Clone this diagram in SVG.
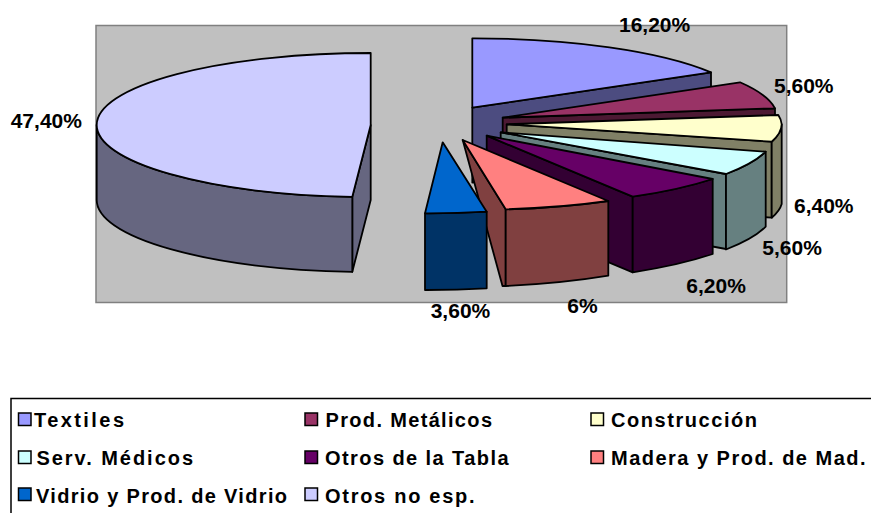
<svg xmlns="http://www.w3.org/2000/svg" width="871" height="513" viewBox="0 0 871 513">
<style>
.s{stroke:#000;stroke-width:1.8;stroke-linejoin:round}
.lbl{font-family:"Liberation Sans",Arial,sans-serif;font-weight:bold;font-size:21px;fill:#000}
.leg{font-family:"Liberation Sans",Arial,sans-serif;font-weight:bold;font-size:20px;fill:#000}
.sw{stroke:#000;stroke-width:1.5}
</style>
<rect x="0" y="0" width="871" height="513" fill="#fff"/>
<rect id="plot-area" x="96" y="25.5" width="690.7" height="277" fill="#C0C0C0" stroke="#808080" stroke-width="1.5"/>

<g id="slice-otros-no-esp">
<path class="s" fill="#666680" d="M352.3,196.8 L370.7,125 L370.7,200 L352.3,271.8 Z"/>
<path class="s" fill="#666680" d="M96.7,125 A274,72 0 0 0 352.3,196.8 L352.3,271.8 A274,72 0 0 1 96.7,200 Z"/>
<path class="s" fill="#CCCCFF" d="M370.7,125 L370.7,53 A274,72 0 0 0 96.7,125 A274,72 0 0 0 352.3,196.8 Z"/>
</g>

<g id="slice-textiles">
<path class="s" fill="#4C4C80" d="M472.3,107.7 L711,72.3 L711,147.3 L472.3,182.7 Z"/>
<path class="s" fill="#9999FF" d="M472.3,107.7 L472.3,38.3 A277,70 0 0 1 711,72.3 Z"/>
</g>

<g id="slice-prod-metalicos">
<path class="s" fill="#4C1933" d="M502.7,117.7 L775,108.3 L775,183.3 L502.7,192.7 Z"/>
<path class="s" fill="#993366" d="M502.7,117.7 L740,82.3 A275,70 0 0 1 775,108.3 Z"/>
</g>

<g id="slice-construccion">
<path class="s" fill="#808066" d="M506.7,124.3 L771.7,141.7 L771.7,217.7 L506.7,199.3 Z"/>
<path class="s" fill="#808066" d="M781.7,124.3 A275,66 0 0 1 771.7,141.7 L771.7,217.7 A275,66 0 0 0 781.7,204 Z"/>
<path class="s" fill="#FFFFCC" d="M506.7,124.3 L778.3,115 A275,66 0 0 1 781.7,124.3 A275,66 0 0 1 771.7,141.7 Z"/>
</g>

<g id="slice-serv-medicos">
<path class="s" fill="#668080" d="M500.7,132.3 L726,174 L726,249 L500.7,207.3 Z"/>
<path class="s" fill="#668080" d="M726,174 A275,72.6 0 0 0 765.7,151.7 L765.7,226.7 A275,72.6 0 0 1 726,249.5 Z"/>
<path class="s" fill="#CCFFFF" d="M500.7,132.3 L765.7,151.7 A275,72.6 0 0 1 726,174 Z"/>
</g>

<g id="slice-otros-de-la-tabla">
<path class="s" fill="#330033" d="M486.7,135.7 L632.7,196.7 L632.7,272.3 L486.7,211.5 Z"/>
<path class="s" fill="#330033" d="M632.7,196.7 A275,74 0 0 0 712.7,179 L712.7,254 A275,74 0 0 1 632.7,272.3 Z"/>
<path class="s" fill="#660066" d="M486.7,135.7 L712.7,179 A275,74 0 0 1 632.7,196.7 Z"/>
</g>

<g id="slice-madera">
<path class="s" fill="#804040" d="M462.7,140 L505.7,209.3 L505.7,286 L502.5,286 Z"/>
<path class="s" fill="#804040" d="M505.7,209.3 A275,71 0 0 0 608.3,201 L608.3,275.7 A275,71 0 0 1 505.7,286 Z"/>
<path class="s" fill="#FF8080" d="M462.7,140 L608.3,201 A275,71 0 0 1 505.7,209.3 Z"/>
</g>

<g id="slice-vidrio">
<path class="s" fill="#003366" d="M425,213.3 A275,71 0 0 0 486.7,211.7 L486.7,288.3 A275,71 0 0 1 425,290 Z"/>
<path class="s" fill="#0066CC" d="M442.7,142.3 L486.7,211.7 A275,71 0 0 1 425,213.3 Z"/>
</g>

<g id="data-labels">
<text class="lbl" x="619" y="31.7">16,20%</text>
<text class="lbl" x="774" y="93.3">5,60%</text>
<text class="lbl" x="794" y="213.3">6,40%</text>
<text class="lbl" x="762.3" y="255">5,60%</text>
<text class="lbl" x="686.3" y="293.3">6,20%</text>
<text class="lbl" x="567.3" y="313.3">6%</text>
<text class="lbl" x="430.7" y="318.3">3,60%</text>
<text class="lbl" x="10.7" y="128.3">47,40%</text>
</g>

<g id="legend">
<rect x="11" y="398.5" width="900" height="200" fill="#fff" stroke="#000" stroke-width="1.5"/>
<rect class="sw" x="18.5" y="413" width="12.5" height="12.5" fill="#9999FF"/>
<text class="leg" x="34" y="426.5" textLength="90">Textiles</text>
<rect class="sw" x="305" y="413" width="12.5" height="12.5" fill="#993366"/>
<text class="leg" x="325.5" y="426.5" textLength="166.5">Prod. Metálicos</text>
<rect class="sw" x="591" y="413" width="12.5" height="12.5" fill="#FFFFCC"/>
<text class="leg" x="611" y="426.5" textLength="146">Construcción</text>
<rect class="sw" x="18.5" y="451" width="12.5" height="12.5" fill="#CCFFFF"/>
<text class="leg" x="36.5" y="465" textLength="156.5">Serv. Médicos</text>
<rect class="sw" x="305" y="451" width="12.5" height="12.5" fill="#660066"/>
<text class="leg" x="325" y="465" textLength="183.5">Otros de la Tabla</text>
<rect class="sw" x="591" y="451" width="12.5" height="12.5" fill="#FF8080"/>
<text class="leg" x="611" y="465" textLength="254.5">Madera y Prod. de Mad.</text>
<rect class="sw" x="18.5" y="488" width="12.5" height="12.5" fill="#0066CC"/>
<text class="leg" x="36" y="502.5" textLength="251">Vidrio y Prod. de Vidrio</text>
<rect class="sw" x="305" y="488" width="12.5" height="12.5" fill="#CCCCFF"/>
<text class="leg" x="325" y="502.5" textLength="149.5">Otros no esp.</text>
</g>
</svg>
